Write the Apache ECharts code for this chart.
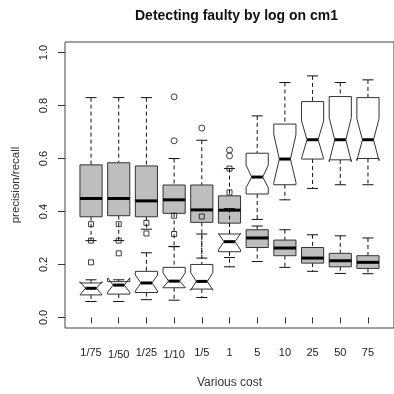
<!DOCTYPE html>
<html>
<head>
<meta charset="utf-8">
<script src="https://cdn.jsdelivr.net/npm/echarts@6/dist/echarts.min.js"></script>
<style>
html,body{margin:0;padding:0;background:#fff;}
#c{width:394px;height:394px;}
</style>
</head>
<body>
<div id="c"></div>
<script>
// ---- data ----
const categories = ['1/75','1/50','1/25','1/10','1/5','1','5','10','25','50','75'];
const yTicks = [0, 0.2, 0.4, 0.6, 0.8, 1.0];

// grey (filled) boxes
const greyLow  = [0.290, 0.290, 0.333, 0.268, 0.224, 0.226, 0.211, 0.189, 0.174, 0.166, 0.165];
const greyQ1   = [0.380, 0.384, 0.380, 0.393, 0.359, 0.356, 0.264, 0.233, 0.205, 0.191, 0.185];
const greyMed  = [0.449, 0.449, 0.440, 0.444, 0.406, 0.405, 0.300, 0.262, 0.224, 0.214, 0.208];
const greyQ3   = [0.576, 0.584, 0.572, 0.500, 0.500, 0.459, 0.331, 0.292, 0.264, 0.242, 0.233];
const greyHigh = [0.830, 0.830, 0.830, 0.600, 0.669, 0.562, 0.345, 0.331, 0.312, 0.308, 0.300];
const greyOutliers = [[], [], [], [0.833, 0.667], [0.715], [0.632, 0.610], [], [], [], [], []];

// white (notched) boxes
const whiteLow     = [0.060, 0.060, 0.067, 0.065, 0.075, 0.191, 0.370, 0.444, 0.487, 0.501, 0.501];
const whiteQ1      = [0.085, 0.088, 0.094, 0.112, 0.107, 0.248, 0.466, 0.501, 0.598, 0.595, 0.600];
const whiteMed     = [0.110, 0.122, 0.130, 0.137, 0.136, 0.286, 0.530, 0.598, 0.671, 0.671, 0.671];
const whiteQ3      = [0.130, 0.135, 0.174, 0.189, 0.200, 0.315, 0.620, 0.730, 0.815, 0.834, 0.830];
const whiteHigh    = [0.142, 0.142, 0.244, 0.267, 0.315, 0.411, 0.761, 0.887, 0.912, 0.887, 0.897];
const whiteNotchLo = [0.085, 0.095, 0.100, 0.113, 0.103, 0.255, 0.490, 0.510, 0.600, 0.588, 0.592];
const whiteNotchHi = [0.135, 0.149, 0.160, 0.168, 0.169, 0.317, 0.575, 0.690, 0.742, 0.754, 0.750];
const whiteOutliers = [[0.352, 0.290, 0.208], [0.352, 0.290, 0.242], [0.357, 0.317], [0.384, 0.315], [0.381], [0.472, 0.562], [], [], [], [], []];

// ---- build ----
const greyData = categories.map((c, i) => [i + 1, greyLow[i], greyQ1[i], greyMed[i], greyQ3[i], greyHigh[i], greyMed[i], greyMed[i]]);
const whiteData = categories.map((c, i) => [i + 1, whiteLow[i], whiteQ1[i], whiteMed[i], whiteQ3[i], whiteHigh[i], whiteNotchLo[i], whiteNotchHi[i]]);
const greyOut = [];
greyOutliers.forEach((arr, i) => arr.forEach(v => greyOut.push([i + 1, v])));
const whiteOut = [];
whiteOutliers.forEach((arr, i) => arr.forEach(v => whiteOut.push([i + 1, v])));

const EDGE = '#333';
function makeRender(notched, fill) {
  return function (params, api) {
    const x = api.value(0);
    const lo = api.value(1), q1 = api.value(2), med = api.value(3), q3 = api.value(4), hi = api.value(5);
    const nlo = api.value(6), nhi = api.value(7);
    const hw = 0.4, cw = 0.2;
    const P = (xx, yy) => api.coord([xx, yy]);
    const kids = [];
    const dash = { stroke: '#111', lineWidth: 1, lineDash: [4, 3] };
    const solid = { stroke: '#111', lineWidth: 1 };
    let a = P(x, hi), b = P(x, q3);
    kids.push({ type: 'line', shape: { x1: a[0], y1: a[1], x2: b[0], y2: b[1] }, style: dash });
    a = P(x, q1); b = P(x, lo);
    kids.push({ type: 'line', shape: { x1: a[0], y1: a[1], x2: b[0], y2: b[1] }, style: dash });
    a = P(x - cw, hi); b = P(x + cw, hi);
    kids.push({ type: 'line', shape: { x1: a[0], y1: a[1], x2: b[0], y2: b[1] }, style: solid });
    a = P(x - cw, lo); b = P(x + cw, lo);
    kids.push({ type: 'line', shape: { x1: a[0], y1: a[1], x2: b[0], y2: b[1] }, style: solid });
    let pts;
    if (notched) {
      pts = [[x - hw, q1], [x - hw, nlo], [x - hw / 2, med], [x - hw, nhi], [x - hw, q3],
             [x + hw, q3], [x + hw, nhi], [x + hw / 2, med], [x + hw, nlo], [x + hw, q1]].map(p => P(p[0], p[1]));
    } else {
      pts = [[x - hw, q1], [x - hw, q3], [x + hw, q3], [x + hw, q1]].map(p => P(p[0], p[1]));
    }
    kids.push({ type: 'polygon', shape: { points: pts }, style: { fill: fill, stroke: EDGE, lineWidth: 1 } });
    const mw = notched ? hw / 2 : hw;
    a = P(x - mw, med); b = P(x + mw, med);
    kids.push({ type: 'line', shape: { x1: a[0], y1: a[1], x2: b[0], y2: b[1] }, style: { stroke: '#000', lineWidth: 3 } });
    return { type: 'group', children: kids };
  };
}

const chart = echarts.init(document.getElementById('c'), null, { renderer: 'canvas' });
const FONT = 'Liberation Sans, Arial, Helvetica, sans-serif';
chart.setOption({
  animation: false,
  backgroundColor: '#fff',
  title: {
    text: 'Detecting faulty by log on cm1',
    left: 130, top: 4,
    textStyle: { fontFamily: FONT, fontSize: 14, fontWeight: 'bold', color: '#111' }
  },
  grid: { left: 65, top: 42, width: 333, height: 286, show: true, borderColor: '#444', borderWidth: 1, backgroundColor: 'transparent' },
  xAxis: {
    type: 'value', min: 0.06, max: 11.94,
    name: 'Various cost', nameLocation: 'middle', nameGap: 49,
    nameTextStyle: { fontFamily: FONT, fontSize: 12, color: '#333' },
    axisLine: { show: false },
    splitLine: { show: false },
    axisTick: { show: true, customValues: categories.map((c, i) => i + 1), length: 6, lineStyle: { color: '#333' } },
    axisLabel: {
      customValues: categories.map((c, i) => i + 1),
      margin: 19,
      formatter: v => (v === 2 || v === 4) ? '{lo|' + categories[v - 1] + '}' : '{hi|' + categories[v - 1] + '}',
      rich: {
        hi: { fontFamily: FONT, fontSize: 11, color: '#222' },
        lo: { fontFamily: FONT, fontSize: 11, color: '#222', padding: [2, 0, 0, 0] }
      }
    }
  },
  yAxis: {
    type: 'value', min: -0.04, max: 1.04,
    name: 'precision/recall', nameLocation: 'middle', nameGap: 43, nameRotate: 90,
    nameTextStyle: { fontFamily: FONT, fontSize: 11.5, color: '#333' },
    axisLine: { show: false },
    splitLine: { show: false },
    axisTick: { show: true, customValues: yTicks, length: 7, lineStyle: { color: '#333' } },
    axisLabel: {
      customValues: yTicks, rotate: 90, margin: 16,
      formatter: v => v.toFixed(1),
      fontFamily: FONT, fontSize: 11, color: '#222'
    }
  },
  series: [
    { type: 'custom', name: 'grey', renderItem: makeRender(false, '#BEBEBE'), data: greyData,
      encode: { x: 0, y: [1, 2, 3, 4, 5] }, z: 2 },
    { type: 'scatter', name: 'greyOut', data: greyOut, symbol: 'circle', symbolSize: 6,
      itemStyle: { color: 'transparent', borderColor: '#111', borderWidth: 1 }, z: 3 },
    { type: 'custom', name: 'white', renderItem: makeRender(true, '#fff'), data: whiteData,
      encode: { x: 0, y: [1, 2, 3, 4, 5] }, z: 4 },
    { type: 'scatter', name: 'whiteOut', data: whiteOut, symbol: 'rect', symbolSize: 5,
      itemStyle: { color: 'transparent', borderColor: '#111', borderWidth: 1 }, z: 5 }
  ]
});
</script>
</body>
</html>
